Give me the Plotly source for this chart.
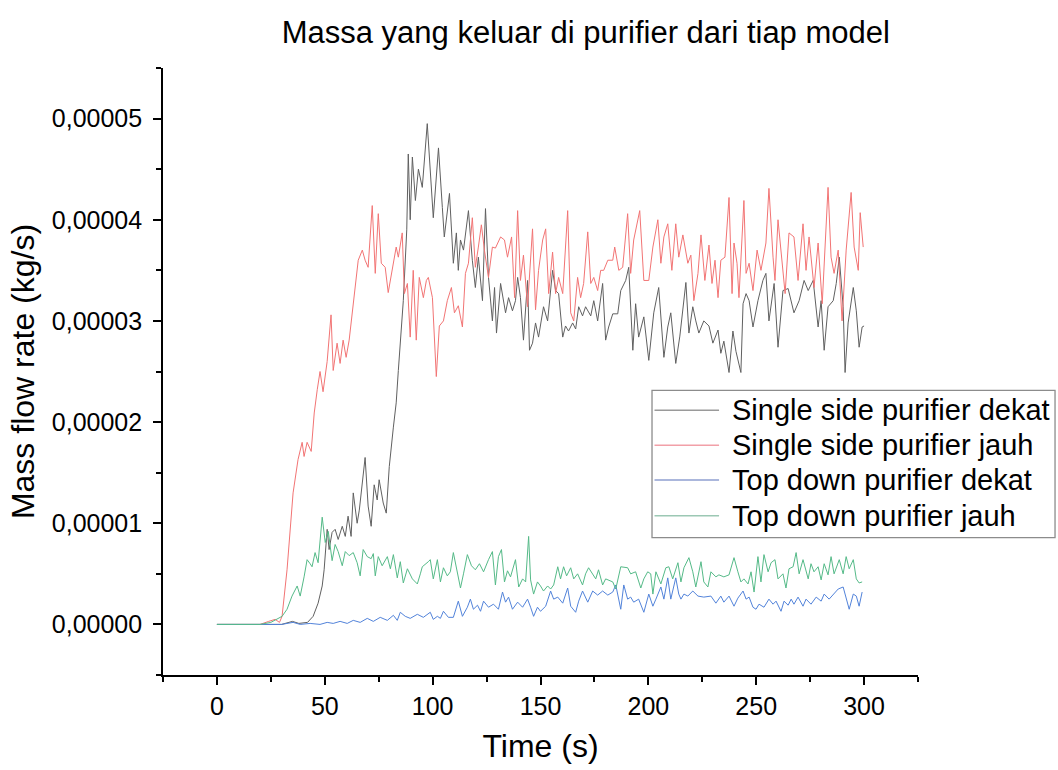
import plotly.graph_objects as go

# values are (time in s, mass flow rate in units of 1e-5 kg/s)
UNIT = 1e-5

single_dekat = [
    (0, 0), (20, 0), (30, 0), (35, 0.03), (38, 0.01), (42, 0.02), (44.6, 0.08), (46.9, 0.21),
    (48.8, 0.38), (49.7, 0.54), (51.1, 0.94), (52.0, 0.74), (53.4, 0.91), (54.8, 0.94), (56.2, 0.84),
    (58.1, 0.97), (59.5, 0.87), (60.8, 1.07), (62.2, 0.87), (63.2, 1.30), (65.0, 1.00), (66.0, 1.13),
    (67.4, 1.43), (68.7, 1.65), (70.1, 1.17), (71.5, 0.97), (72.9, 1.38), (74.3, 1.23), (75.2, 1.43),
    (77.1, 1.20), (78.5, 1.10), (79.9, 1.56), (81.8, 1.95), (83.1, 2.19), (84.1, 2.51), (85.0, 2.78),
    (86.4, 3.20), (88.0, 3.90), (88.7, 4.65), (89.6, 4.00), (90.6, 4.62), (92.0, 4.19), (93.4, 4.50),
    (95.2, 4.32), (97.5, 4.95), (100.3, 4.02), (102.7, 4.71), (104.5, 4.12), (105.4, 3.83), (107.8, 4.26),
    (109.6, 3.57), (111.0, 3.87), (111.9, 3.50), (112.9, 3.80), (114.3, 3.70), (116.6, 4.09), (118.4, 3.60),
    (119.8, 3.33), (121.2, 3.63), (123.1, 3.20), (124.5, 4.11), (125.9, 3.43), (127.7, 3.00), (128.7, 3.33),
    (129.6, 2.88), (131.5, 3.37), (133.8, 3.08), (135.2, 3.23), (137.0, 3.10), (138.4, 3.20), (139.4, 3.43),
    (140.7, 3.23), (142.1, 2.81), (144.0, 3.40), (144.9, 2.71), (146.3, 2.78), (147.7, 2.98), (149.1, 2.84),
    (151.4, 3.14), (153.3, 3.00), (155.6, 3.50), (157.0, 3.30), (158.4, 3.27), (160.3, 2.84), (161.6, 2.95),
    (163.0, 2.90), (164.9, 2.98), (166.3, 2.92), (167.7, 3.14), (169.5, 3.05), (170.9, 3.14), (173.3, 3.05),
    (174.7, 3.20), (176.5, 3.00), (178.8, 3.37), (180.2, 2.81), (181.6, 2.94), (183.5, 3.07), (185.8, 3.07),
    (187.2, 3.30), (189.5, 3.40), (190.9, 3.53), (192.8, 2.71), (194.1, 3.17), (195.5, 2.84), (197.9, 3.04),
    (200.2, 2.61), (202.5, 3.08), (204.8, 3.33), (207.2, 2.64), (209.0, 2.94), (210.4, 3.08), (212.7, 2.58),
    (214.6, 2.85), (216.0, 3.11), (217.4, 3.38), (218.8, 2.88), (220.6, 3.14), (222.0, 3.00), (223.4, 2.88),
    (225.7, 3.00), (228.1, 2.95), (229.9, 2.78), (232.3, 2.91), (233.6, 2.68), (235.0, 2.80), (237.4, 2.49),
    (239.2, 2.90), (240.6, 2.70), (242.9, 2.49), (243.9, 3.17), (245.3, 3.27), (246.7, 3.20), (248.5, 2.94),
    (250.8, 3.20), (253.1, 3.40), (254.5, 3.47), (255.9, 3.00), (258.3, 3.37), (260.1, 2.74), (262.4, 3.30),
    (264.8, 3.32), (267.5, 3.08), (269.9, 3.20), (272.2, 3.40), (274.1, 3.30), (276.4, 3.40), (278.7, 2.94),
    (280.1, 3.20), (281.5, 2.71), (283.3, 3.14), (285.7, 3.20), (287.1, 3.37), (288.5, 3.63), (290.3, 3.14),
    (291.2, 2.49), (292.6, 2.98), (295.0, 3.33), (296.4, 3.10), (297.7, 2.74), (299.1, 2.94), (300, 2.95),
]

single_jauh = [
    (0, 0), (20, 0), (24, 0.03), (27, 0.05), (29, 0.02), (30.2, 0.08), (32.5, 0.54), (35.3, 1.30),
    (37.6, 1.63), (39.5, 1.80), (40.4, 1.66), (41.8, 1.80), (43.7, 1.71), (45.1, 2.09), (46.5, 2.32),
    (47.8, 2.50), (49.2, 2.30), (51.1, 2.60), (52.9, 3.06), (53.9, 2.51), (55.7, 2.78), (57.1, 2.58),
    (58.5, 2.81), (59.9, 2.64), (61.3, 2.81), (63.2, 3.17), (65.5, 3.60), (67.4, 3.70), (68.7, 3.60),
    (70.1, 3.53), (72.0, 4.14), (73.4, 3.47), (74.8, 4.06), (76.2, 3.57), (78.0, 3.53), (79.4, 3.28),
    (81.3, 3.50), (83.1, 3.73), (84.1, 3.63), (85.9, 3.87), (86.9, 3.27), (88.3, 3.37), (89.6, 2.84),
    (91.0, 3.50), (92.4, 2.81), (93.8, 3.43), (95.7, 3.23), (97.1, 3.40), (98.0, 3.43), (99.9, 3.23),
    (101.7, 2.45), (103.1, 2.95), (105.0, 3.00), (106.8, 3.20), (108.7, 3.33), (110.1, 3.08), (111.9, 3.15),
    (113.8, 2.94), (115.2, 3.47), (116.6, 3.57), (118.4, 4.02), (119.8, 3.53), (121.2, 3.73), (122.6, 3.95),
    (124.0, 3.70), (125.9, 3.43), (127.7, 3.73), (129.1, 3.72), (131.5, 3.83), (133.3, 3.80), (134.7, 3.63),
    (136.6, 3.83), (138.0, 3.23), (139.4, 4.09), (140.7, 3.40), (142.1, 3.65), (144.0, 3.14), (146.3, 3.91),
    (147.7, 3.11), (149.1, 3.50), (151.0, 3.80), (152.4, 3.91), (153.8, 3.27), (155.6, 3.68), (157.0, 3.27),
    (158.4, 3.43), (160.3, 3.27), (162.6, 4.09), (164.0, 3.08), (165.4, 3.00), (167.2, 3.43), (168.6, 3.23),
    (170.0, 3.37), (171.9, 3.88), (173.3, 3.37), (174.7, 3.43), (176.5, 3.30), (177.9, 3.50), (179.3, 3.50),
    (181.2, 3.60), (183.5, 3.60), (184.4, 3.73), (186.3, 3.50), (188.1, 3.53), (190.4, 4.06), (191.8, 3.47),
    (193.2, 3.80), (196.0, 4.09), (197.9, 3.40), (200.2, 3.40), (202.1, 3.73), (204.4, 4.00), (205.8, 3.57),
    (207.2, 3.83), (209.0, 3.96), (210.9, 3.50), (212.7, 3.96), (214.1, 3.63), (216.0, 3.85), (218.3, 3.57),
    (219.7, 3.65), (221.1, 3.20), (223.0, 3.47), (224.4, 3.85), (226.2, 3.40), (228.1, 3.75), (229.5, 3.37),
    (230.9, 3.60), (232.3, 3.23), (233.6, 3.60), (235.5, 3.63), (237.4, 4.22), (238.8, 3.27), (239.7, 3.77),
    (241.1, 3.57), (242.0, 3.23), (244.3, 4.19), (245.3, 3.47), (246.7, 3.57), (248.5, 3.30), (250.4, 3.70),
    (252.2, 3.50), (254.5, 3.77), (255.9, 4.31), (257.8, 3.63), (258.7, 3.40), (260.1, 4.00), (262.0, 3.57),
    (263.4, 3.27), (265.2, 3.87), (267.5, 3.83), (269.4, 3.40), (271.7, 3.96), (273.1, 3.50), (274.5, 3.83),
    (276.8, 3.33), (278.7, 3.77), (280.6, 3.17), (281.5, 3.60), (283.3, 4.32), (284.7, 3.63), (286.1, 3.47),
    (288.0, 3.70), (289.8, 3.00), (291.7, 3.70), (294.0, 4.27), (295.4, 3.73), (297.3, 3.50), (298.2, 4.07),
    (299.6, 3.73),
]

topdown_dekat = [
    (0, 0), (30, 0), (35.3, 0.02), (38.6, 0.0), (43.2, 0.01), (47.8, 0.0), (51.1, 0.02), (53.9, 0.01),
    (57.1, 0.03), (60.4, 0.01), (63.2, 0.04), (66.4, 0.02), (69.7, 0.06), (72.5, 0.03), (75.7, 0.07),
    (79.0, 0.04), (81.8, 0.09), (83.6, 0.04), (85.0, 0.12), (87.3, 0.08), (89.6, 0.06), (92.9, 0.10),
    (95.7, 0.07), (98.9, 0.12), (100.3, 0.05), (102.2, 0.08), (103.6, 0.06), (105.0, 0.13), (107.3, 0.07),
    (109.6, 0.07), (111.9, 0.23), (113.8, 0.08), (116.1, 0.17), (117.5, 0.25), (118.9, 0.15), (120.8, 0.19),
    (122.2, 0.13), (123.6, 0.23), (125.9, 0.17), (128.2, 0.20), (130.5, 0.15), (132.4, 0.32), (133.8, 0.22),
    (135.2, 0.27), (137.0, 0.15), (139.4, 0.22), (141.7, 0.17), (144.0, 0.25), (145.4, 0.17), (146.8, 0.08),
    (148.6, 0.17), (150.0, 0.13), (152.4, 0.18), (154.7, 0.33), (156.1, 0.25), (158.0, 0.27), (160.3, 0.21),
    (162.6, 0.36), (164.0, 0.18), (166.3, 0.12), (167.7, 0.23), (169.5, 0.33), (171.9, 0.22), (174.2, 0.33),
    (176.5, 0.29), (178.8, 0.33), (181.2, 0.29), (183.5, 0.32), (184.9, 0.39), (187.2, 0.15), (188.6, 0.39),
    (190.4, 0.25), (191.8, 0.27), (193.2, 0.22), (195.5, 0.25), (197.9, 0.12), (200.2, 0.30), (202.1, 0.18),
    (203.5, 0.25), (205.8, 0.37), (207.2, 0.25), (209.0, 0.46), (210.4, 0.25), (212.7, 0.46), (214.1, 0.30),
    (215.1, 0.25), (216.5, 0.30), (218.3, 0.28), (220.6, 0.33), (223.0, 0.28), (225.7, 0.27), (229.0, 0.28),
    (231.3, 0.21), (233.6, 0.28), (235.0, 0.22), (237.4, 0.28), (239.7, 0.18), (241.5, 0.26), (243.9, 0.33),
    (245.3, 0.25), (246.7, 0.27), (248.5, 0.17), (249.9, 0.15), (251.3, 0.20), (253.6, 0.17), (255.9, 0.25),
    (257.8, 0.20), (259.2, 0.23), (261.5, 0.13), (262.9, 0.23), (264.8, 0.19), (266.2, 0.25), (267.5, 0.20),
    (269.4, 0.27), (271.7, 0.18), (273.1, 0.25), (275.4, 0.20), (277.8, 0.27), (280.1, 0.23), (281.5, 0.30),
    (283.8, 0.25), (285.7, 0.30), (288.0, 0.35), (290.3, 0.37), (291.7, 0.27), (293.1, 0.15), (295.0, 0.30),
    (296.4, 0.28), (297.7, 0.18), (299.1, 0.32),
]

topdown_jauh = [
    (0, 0), (20, 0), (25, 0.02), (28, 0.05), (30.2, 0.08), (32.5, 0.15), (34.8, 0.28), (37.2, 0.38),
    (38.6, 0.28), (40.4, 0.47), (41.8, 0.64), (43.2, 0.60), (44.1, 0.57), (45.5, 0.71), (46.9, 0.61),
    (48.8, 1.06), (50.2, 0.81), (51.6, 0.92), (53.4, 0.63), (54.8, 0.79), (56.2, 0.72), (58.1, 0.58),
    (59.5, 0.72), (61.3, 0.68), (63.2, 0.71), (65.0, 0.61), (66.4, 0.48), (67.8, 0.74), (69.7, 0.67),
    (71.5, 0.65), (72.5, 0.70), (73.4, 0.48), (74.8, 0.67), (76.6, 0.58), (79.0, 0.67), (80.4, 0.55),
    (81.8, 0.69), (83.6, 0.46), (85.0, 0.62), (86.4, 0.41), (88.3, 0.55), (90.6, 0.45), (92.9, 0.40),
    (94.3, 0.50), (95.2, 0.57), (98.0, 0.62), (98.9, 0.64), (100.3, 0.45), (102.2, 0.64), (103.6, 0.42),
    (105.0, 0.56), (106.8, 0.48), (108.2, 0.52), (109.6, 0.71), (111.5, 0.49), (112.9, 0.36), (114.3, 0.50),
    (116.1, 0.69), (118.0, 0.58), (119.8, 0.54), (121.7, 0.60), (123.6, 0.52), (125.9, 0.64), (127.7, 0.72),
    (129.1, 0.39), (130.5, 0.67), (131.9, 0.74), (133.3, 0.42), (134.7, 0.53), (136.1, 0.47), (138.4, 0.64),
    (139.9, 0.37), (141.7, 0.45), (143.1, 0.42), (144.5, 0.87), (145.4, 0.44), (146.8, 0.30), (148.6, 0.42),
    (150.0, 0.38), (151.4, 0.33), (153.3, 0.38), (154.7, 0.35), (156.1, 0.39), (158.0, 0.57), (159.3, 0.45),
    (160.7, 0.57), (162.1, 0.48), (164.0, 0.56), (165.4, 0.45), (167.2, 0.50), (169.5, 0.39), (170.9, 0.50),
    (172.3, 0.56), (174.2, 0.50), (175.6, 0.45), (176.9, 0.54), (178.8, 0.39), (180.2, 0.45), (183.5, 0.42),
    (184.9, 0.35), (187.2, 0.57), (190.4, 0.56), (191.8, 0.50), (194.1, 0.52), (196.5, 0.36), (197.9, 0.45),
    (199.7, 0.52), (201.1, 0.50), (202.1, 0.30), (203.5, 0.52), (205.8, 0.40), (208.1, 0.56), (209.5, 0.57),
    (211.3, 0.45), (213.7, 0.61), (215.1, 0.42), (216.5, 0.56), (218.8, 0.66), (220.6, 0.52), (222.0, 0.37),
    (224.4, 0.62), (225.7, 0.42), (227.6, 0.37), (229.0, 0.52), (231.3, 0.47), (232.7, 0.49), (235.0, 0.47),
    (237.4, 0.49), (239.7, 0.66), (241.5, 0.52), (242.9, 0.42), (244.3, 0.45), (246.2, 0.40), (247.6, 0.52),
    (249.0, 0.32), (250.8, 0.67), (252.2, 0.42), (253.6, 0.69), (255.5, 0.52), (256.9, 0.61), (258.7, 0.64),
    (260.1, 0.45), (262.4, 0.50), (263.8, 0.36), (265.2, 0.55), (267.1, 0.57), (268.5, 0.71), (269.9, 0.50),
    (271.7, 0.64), (274.1, 0.45), (275.4, 0.60), (276.8, 0.52), (278.7, 0.57), (280.1, 0.44), (281.5, 0.60),
    (283.3, 0.49), (284.7, 0.67), (286.1, 0.50), (288.5, 0.64), (290.3, 0.50), (291.7, 0.67), (293.1, 0.55),
    (295.0, 0.64), (296.4, 0.45), (297.7, 0.41), (299.1, 0.42),
]

series_names = [
    "Single side purifier dekat",
    "Single side purifier jauh",
    "Top down purifier dekat",
    "Top down purifier jauh",
]
series_data = [single_dekat, single_jauh, topdown_dekat, topdown_jauh]
series_colors = ["#606060", "#f27474", "#5283da", "#55ba88"]
legend_colors = ["#9a9a9a", "#f2a0a8", "#8f9fd0", "#9cc8b4"]

FONT = "Liberation Sans, Arial, sans-serif"

fig = go.Figure()
for name, data, color in zip(series_names, series_data, series_colors):
    t = [p[0] for p in data]
    y = [p[1] * UNIT for p in data]
    fig.add_trace(go.Scatter(x=t, y=y, mode="lines", name=name, showlegend=False,
                             line=dict(color=color, width=1.0)))

# legend drawn as a framed box (paper coordinates) to match the reference row spacing
LEG_X0, LEG_X1, LEG_Y0, LEG_Y1 = 0.6477, 1.1815, 0.2262, 0.4689
LEG_ROWS = [0.4361, 0.3787, 0.3213, 0.2623]
SW_X0, SW_X1, TXT_X = 0.651, 0.7365, 0.751

shapes = [dict(type="rect", xref="paper", yref="paper", x0=LEG_X0, x1=LEG_X1, y0=LEG_Y0, y1=LEG_Y1,
               line=dict(color="#8c8c8c", width=1.3), fillcolor="white", layer="above")]
annotations = []
for name, col, ry in zip(series_names, legend_colors, LEG_ROWS):
    shapes.append(dict(type="line", xref="paper", yref="paper", x0=SW_X0, x1=SW_X1, y0=ry, y1=ry,
                       line=dict(color=col, width=1.5), layer="above"))
    annotations.append(dict(xref="paper", yref="paper", x=TXT_X, y=ry, xanchor="left", yanchor="middle",
                            text=name, showarrow=False,
                            font=dict(family=FONT, size=29, color="black")))

axis_common = dict(
    showline=True, linecolor="black", linewidth=1.6, mirror=False,
    showgrid=False, zeroline=False,
    ticks="outside", ticklen=8, tickwidth=1.6, tickcolor="black",
    tickfont=dict(family=FONT, size=25, color="black"),
)

fig.update_layout(
    width=1058, height=770,
    paper_bgcolor="white", plot_bgcolor="white",
    separators=",.",
    margin=dict(l=163, r=140, t=68, b=92),
    title=dict(text="Massa yang keluar di purifier dari tiap model",
               x=0.56, xref="paper", xanchor="center",
               y=0.958, yanchor="middle",
               font=dict(family=FONT, size=31, color="black")),
    xaxis=dict(**axis_common, range=[-25, 325], tick0=0, dtick=50,
               minor=dict(ticks="outside", ticklen=5, tickwidth=1.6, tickcolor="black", dtick=25, tick0=0),
               title=dict(text="Time (s)", font=dict(family=FONT, size=32, color="black"), standoff=16)),
    yaxis=dict(**axis_common, range=[-0.000005, 0.000055], tick0=0, dtick=0.00001, tickformat=".5f",
               minor=dict(ticks="outside", ticklen=5, tickwidth=1.6, tickcolor="black", dtick=0.000005, tick0=0),
               ticklabelstandoff=6,
               title=dict(text="Mass flow rate (kg/s)", font=dict(family=FONT, size=32, color="black"), standoff=8)),
    shapes=shapes,
    annotations=annotations,
    showlegend=False,
)

fig.write_html("out.html", config={"displayModeBar": False},
               post_script="document.body.style.margin='0px';")
